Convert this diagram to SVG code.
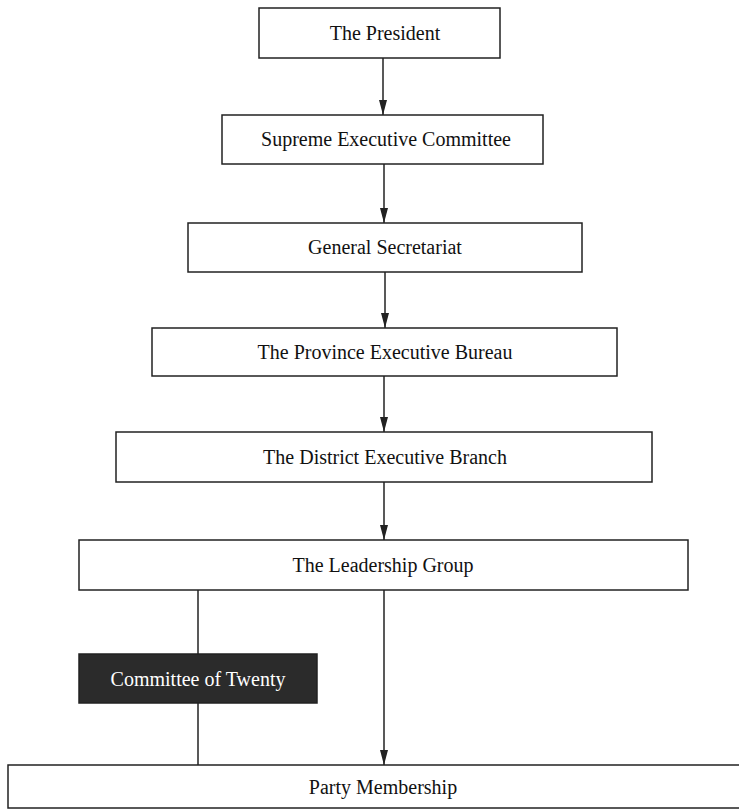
<svg xmlns="http://www.w3.org/2000/svg" width="739" height="812" viewBox="0 0 739 812">
<style>
.box{fill:#fff;stroke:#222;stroke-width:1.5}
.dark{fill:#2b2b2b;stroke:#222;stroke-width:1.5}
.lbl{font-family:"Liberation Serif","Times New Roman",serif;font-size:20px;fill:#111;text-anchor:middle}
.wlbl{font-family:"Liberation Serif","Times New Roman",serif;font-size:20px;fill:#fff;text-anchor:middle}
.conn{stroke:#222;stroke-width:1.5;fill:none}
</style>
<defs>
<marker id="arr" markerWidth="16" markerHeight="8" refX="15" refY="4" orient="auto" markerUnits="userSpaceOnUse" viewBox="0 0 16 8">
<path d="M0,0 L15,4 L0,8 Z" fill="#222"/>
</marker>
</defs>
<rect width="739" height="812" fill="#fff"/>
<g id="connectors">
<line class="conn" x1="383" y1="58" x2="383" y2="115" marker-end="url(#arr)"/>
<line class="conn" x1="384" y1="164" x2="384" y2="223" marker-end="url(#arr)"/>
<line class="conn" x1="385" y1="272" x2="385" y2="328" marker-end="url(#arr)"/>
<line class="conn" x1="384" y1="376" x2="384" y2="432" marker-end="url(#arr)"/>
<line class="conn" x1="384" y1="482" x2="384" y2="540" marker-end="url(#arr)"/>
<line class="conn" x1="384" y1="590" x2="384" y2="765" marker-end="url(#arr)"/>
<line class="conn" x1="198" y1="590" x2="198" y2="654"/>
<line class="conn" x1="198" y1="703" x2="198" y2="765"/>
</g>
<g id="president">
<rect class="box" x="259" y="8" width="241" height="50"/>
<text class="lbl" x="385" y="40">The President</text>
</g>
<g id="supreme">
<rect class="box" x="222" y="115" width="321" height="49"/>
<text class="lbl" x="386" y="146">Supreme Executive Committee</text>
</g>
<g id="secretariat">
<rect class="box" x="188" y="223" width="394" height="49"/>
<text class="lbl" x="385" y="254">General Secretariat</text>
</g>
<g id="province">
<rect class="box" x="152" y="328" width="465" height="48"/>
<text class="lbl" x="385" y="359">The Province Executive Bureau</text>
</g>
<g id="district">
<rect class="box" x="116" y="432" width="536" height="50"/>
<text class="lbl" x="385" y="464">The District Executive Branch</text>
</g>
<g id="leadership">
<rect class="box" x="79" y="540" width="609" height="50"/>
<text class="lbl" x="383" y="572">The Leadership Group</text>
</g>
<g id="committee">
<rect class="dark" x="79" y="654" width="238" height="49"/>
<text class="wlbl" x="198" y="686">Committee of Twenty</text>
</g>
<g id="membership">
<rect class="box" x="8" y="765" width="740" height="43"/>
<text class="lbl" x="383" y="794">Party Membership</text>
</g>
</svg>
